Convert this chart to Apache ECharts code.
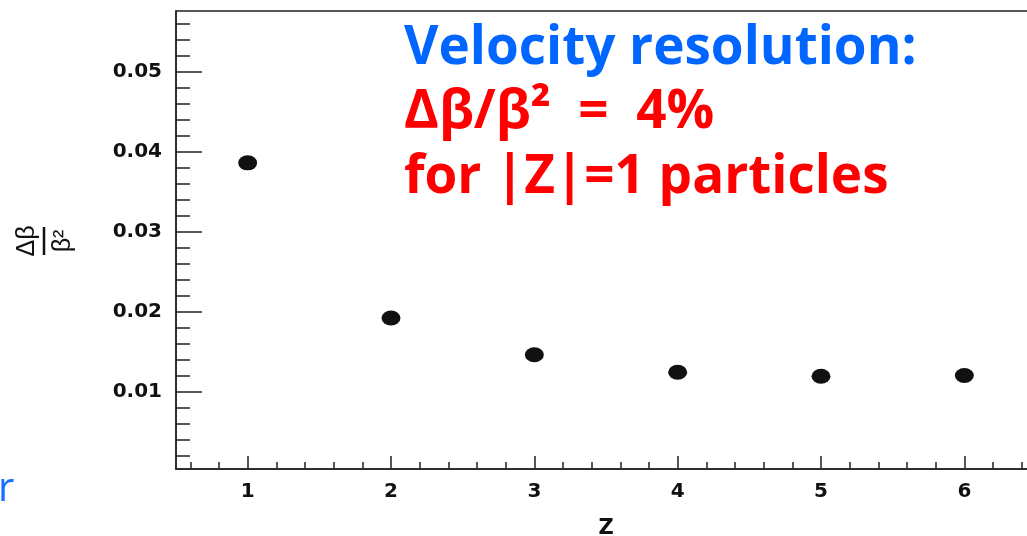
<!DOCTYPE html>
<html>
<head>
<meta charset="utf-8">
<script src="https://cdn.jsdelivr.net/npm/echarts@6/dist/echarts.min.js"></script>
<style>
  html, body { margin: 0; padding: 0; background: #fff; }
  #chart { width: 1027px; height: 536px; }
</style>
</head>
<body>
<div id="chart"></div>
<script>
// Velocity resolution versus particle charge
const chargeZ = [1, 2, 3, 4, 5, 6];
const resolution = [0.0386, 0.0192, 0.0146, 0.0124, 0.0119, 0.0120];

const xMajorTicks = [1, 2, 3, 4, 5, 6];
const yMajorTicks = [0.01, 0.02, 0.03, 0.04, 0.05];

const xRange = [0.5, 6.5];
const yRange = [0.0003, 0.0576];

// minor ticks: every 0.2 in Z, every 0.002 in resolution
function minorTicks(lo, hi, step, majorStep, digits) {
  const out = [];
  const start = Math.ceil(lo / step - 1e-9);
  const end = Math.floor(hi / step + 1e-9);
  for (let i = start; i <= end; i++) {
    const v = +(i * step).toFixed(digits);
    const r = v / majorStep;
    if (Math.abs(r - Math.round(r)) < 1e-6) continue;
    out.push(v);
  }
  return out;
}
const xMinorTicks = minorTicks(xRange[0], xRange[1], 0.2, 1, 1);
const yMinorTicks = minorTicks(yRange[0], yRange[1], 0.002, 0.01, 3);

const axisColor = '#222';
const labelFont = { fontFamily: 'DejaVu Sans', fontWeight: 'bold', fontSize: 20, color: '#111' };

const chart = echarts.init(document.getElementById('chart'), null, { renderer: 'canvas' });

chart.setOption({
  backgroundColor: '#fff',
  animation: false,
  grid: {
    left: 176, top: 11, right: -9, bottom: 67,
    containLabel: false, outerBoundsMode: 'none',
    show: true, borderColor: axisColor, borderWidth: 1.5, backgroundColor: 'transparent'
  },
  xAxis: [
    {
      type: 'value', min: xRange[0], max: xRange[1],
      name: 'Z', nameLocation: 'middle', nameGap: 60,
      nameTextStyle: Object.assign({}, labelFont, { verticalAlign: 'middle', fontSize: 21 }),
      axisLine: { show: true, lineStyle: { color: axisColor, width: 1.5 } },
      axisTick: { show: true, inside: true, length: 13, customValues: xMajorTicks, lineStyle: { color: axisColor, width: 1.5 } },
      axisLabel: Object.assign({ show: true, margin: 13, customValues: xMajorTicks, formatter: v => String(v) }, labelFont),
      splitLine: { show: false }
    },
    {
      type: 'value', min: xRange[0], max: xRange[1], position: 'bottom',
      axisLine: { show: false },
      axisTick: { show: true, inside: true, length: 7, customValues: xMinorTicks, lineStyle: { color: axisColor, width: 1.5 } },
      axisLabel: { show: false },
      splitLine: { show: false }
    }
  ],
  yAxis: [
    {
      type: 'value', min: yRange[0], max: yRange[1],
      axisLine: { show: true, lineStyle: { color: axisColor, width: 1.5 } },
      axisTick: { show: true, inside: true, length: 26, customValues: yMajorTicks, lineStyle: { color: axisColor, width: 1.5 } },
      axisLabel: Object.assign({ show: true, margin: 14, customValues: yMajorTicks, formatter: v => v.toFixed(2) }, labelFont),
      splitLine: { show: false }
    },
    {
      type: 'value', min: yRange[0], max: yRange[1], position: 'left',
      axisLine: { show: false },
      axisTick: { show: true, inside: true, length: 14, customValues: yMinorTicks, lineStyle: { color: axisColor, width: 1.5 } },
      axisLabel: { show: false },
      splitLine: { show: false }
    }
  ],
  series: [{
    type: 'scatter',
    xAxisIndex: 0, yAxisIndex: 0,
    data: chargeZ.map((z, i) => [z, resolution[i]]),
    symbol: 'circle',
    symbolSize: [19, 15],
    itemStyle: { color: '#111', opacity: 1 }
  }],
  graphic: [
    // y-axis title drawn as a rotated fraction
    {
      type: 'group', x: 44, y: 241, rotation: Math.PI / 2,
      children: [
        { type: 'text', x: 0, y: -4, style: { text: 'Δβ', fontFamily: 'Liberation Sans', fontSize: 25, fill: '#111', align: 'center', verticalAlign: 'bottom' } },
        { type: 'line', shape: { x1: -14, y1: 0, x2: 14, y2: 0 }, style: { stroke: '#111', lineWidth: 2.5 } },
        { type: 'text', x: 0, y: 7, style: { text: 'β²', fontFamily: 'Liberation Sans', fontSize: 25, fill: '#111', align: 'center', verticalAlign: 'top' } }
      ]
    },
    {
      type: 'text', x: 404, y: 49,
      style: { text: 'Velocity resolution:', fontFamily: 'Open Sans', fontWeight: 'bold', fontSize: 53, fill: '#0066ff', verticalAlign: 'middle' }
    },
    {
      type: 'text', x: 404, y: 113,
      style: { text: 'Δβ/β²  =  4%', fontFamily: 'Open Sans', fontWeight: 'bold', fontSize: 53, fill: '#ff0000', verticalAlign: 'middle' }
    },
    {
      type: 'text', x: 404, y: 178,
      style: { text: 'for |Z|=1 particles', fontFamily: 'Open Sans', fontWeight: 'bold', fontSize: 53, fill: '#ff0000', verticalAlign: 'middle' }
    },
    {
      type: 'text', x: -2, y: 490,
      style: { text: 'r', fontFamily: 'Open Sans', fontSize: 40, fill: '#1a6dff', verticalAlign: 'middle' }
    }
  ]
});
</script>
</body>
</html>
